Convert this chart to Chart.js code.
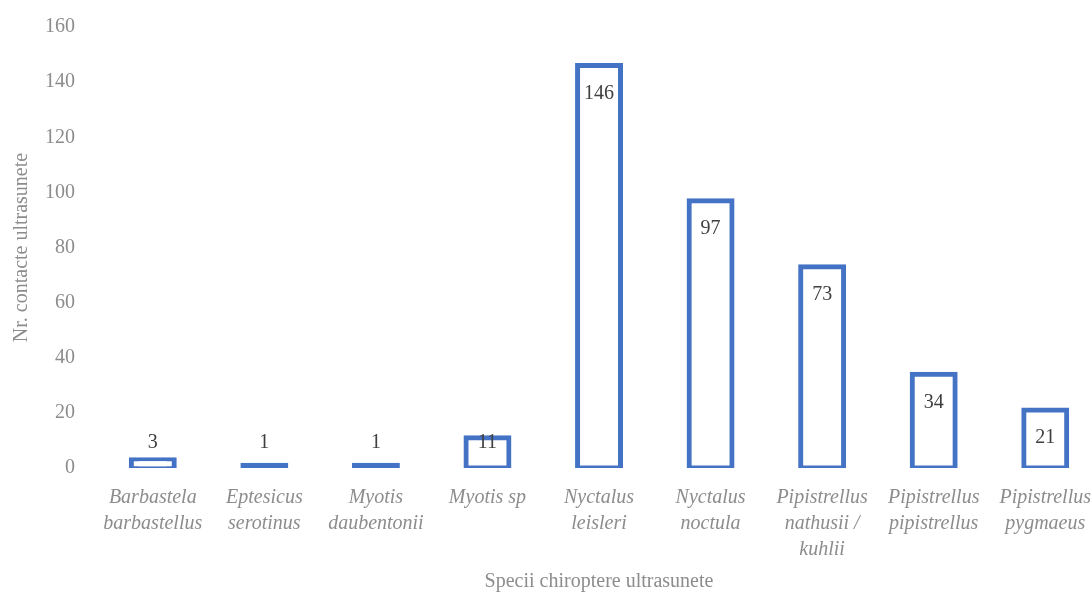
<!DOCTYPE html>
<html>
<head>
<meta charset="utf-8">
<script src="https://cdn.jsdelivr.net/npm/chart.js@4"></script>
<style>
  html, body { margin: 0; padding: 0; background: #fff; overflow: hidden; }
  #wrap { width: 1108px; height: 594px; }
</style>
</head>
<body>
<div id="wrap"><canvas id="bar_chart"></canvas></div>
<script>
const species = [
    ['Barbastela', 'barbastellus'],
    ['Eptesicus', 'serotinus'],
    ['Myotis', 'daubentonii'],
    'Myotis sp',
    ['Nyctalus', 'leisleri'],
    ['Nyctalus', 'noctula'],
    ['Pipistrellus', 'nathusii /', 'kuhlii'],
    ['Pipistrellus', 'pipistrellus'],
    ['Pipistrellus', 'pygmaeus']
];
const contacts = [3, 1, 1, 11, 146, 97, 73, 34, 21];
const yTicks = [0, 20, 40, 60, 80, 100, 120, 140, 160];

const serif = "'Liberation Serif', 'DejaVu Serif', serif";
const grey = '#8c8c8c';
const blue = '#4472C4';

// value labels: inside the top of the bar, pushed above for short bars
const valueLabels = {
    id: 'valueLabels',
    afterDatasetsDraw(chart) {
        const ctx = chart.ctx;
        const base = chart.scales.y.getPixelForValue(0);
        ctx.save();
        ctx.font = '20px ' + serif;
        ctx.fillStyle = '#404040';
        ctx.textAlign = 'center';
        ctx.textBaseline = 'middle';
        chart.getDatasetMeta(0).data.forEach((bar, i) => {
            const y = Math.min(bar.y + 28, base - 25);
            ctx.fillText(String(contacts[i]), bar.x, y);
        });
        ctx.restore();
    }
};

let myChart = document.getElementById('bar_chart').getContext('2d');
let bar_chart = new Chart(myChart, {
    type: 'bar',
    data: {
        labels: species,
        datasets: [{
            label: 'Nr. contacte ultrasunete',
            data: contacts,
            // very short bars are fully covered by the outline
            backgroundColor: (c) => {
                const y = c.chart.scales && c.chart.scales.y;
                if (!y || c.raw === undefined) return '#ffffff';
                const h = y.getPixelForValue(0) - y.getPixelForValue(c.raw);
                return h < 5 ? blue : '#ffffff';
            },
            borderColor: blue,
            borderWidth: 5,
            borderSkipped: false,
            inflateAmount: 2.5,
            barPercentage: 0.385,
            categoryPercentage: 1
        }]
    },
    options: {
        responsive: true,
        maintainAspectRatio: false,
        animation: false,
        layout: { padding: { top: 27, right: 0, bottom: 0, left: 0 } },
        plugins: {
            legend: { display: false },
            tooltip: { enabled: false }
        },
        scales: {
            x: {
                grid: { display: false, drawTicks: false },
                border: { display: false },
                ticks: {
                    color: grey,
                    padding: 17,
                    maxRotation: 0,
                    autoSkip: false,
                    font: { family: serif, size: 20, style: 'italic', lineHeight: 1.3 }
                },
                title: {
                    display: true,
                    text: 'Specii chiroptere ultrasunete',
                    color: grey,
                    font: { family: serif, size: 20 },
                    padding: { top: 19, bottom: 0 }
                },
                afterFit(scale) { scale.height = 126; }
            },
            y: {
                min: 0,
                max: 160,
                grid: { display: false, drawTicks: false },
                border: { display: false },
                afterBuildTicks(scale) { scale.ticks = yTicks.map(v => ({ value: v })); },
                ticks: {
                    color: grey,
                    padding: 22,
                    font: { family: serif, size: 20 }
                },
                title: {
                    display: true,
                    text: 'Nr. contacte ultrasunete',
                    color: grey,
                    font: { family: serif, size: 20 },
                    padding: { top: 10, bottom: 0 }
                },
                afterFit(scale) {
                    scale.width = 97;
                    scale.paddingTop = 0;
                    scale.paddingBottom = 0;
                }
            }
        }
    },
    plugins: [valueLabels]
});
</script>
</body>
</html>
